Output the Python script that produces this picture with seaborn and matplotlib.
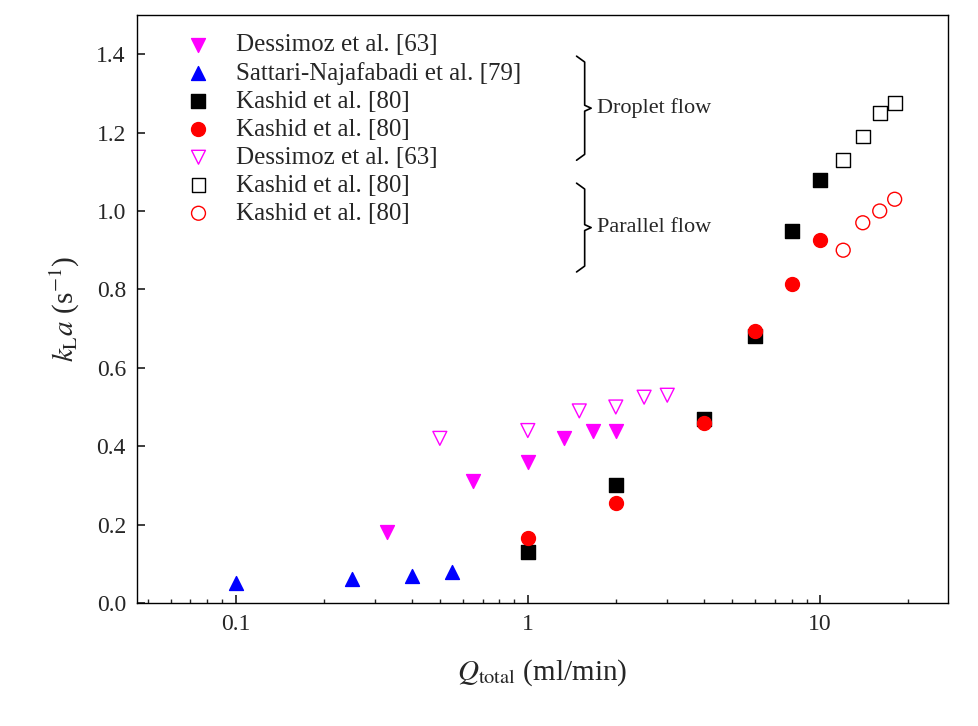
import matplotlib
matplotlib.use("Agg")
import matplotlib.pyplot as plt
import seaborn as sns
import pandas as pd

sns.set_theme(style="ticks")
plt.rcParams['font.family'] = ['Liberation Serif', 'DejaVu Serif']
plt.rcParams['mathtext.fontset'] = 'stix'

des_d_x = [0.33, 0.65, 1.0, 1.33, 1.67, 2.0]
des_d_y = [0.18, 0.31, 0.36, 0.42, 0.44, 0.44]
sat_x = [0.1, 0.25, 0.4, 0.55]
sat_y = [0.05, 0.06, 0.07, 0.08]
kas_sq_x = [1, 2, 4, 6, 8, 10]
kas_sq_y = [0.13, 0.30, 0.47, 0.68, 0.95, 1.08]
kas_ci_x = [1, 2, 4, 6, 8, 10]
kas_ci_y = [0.165, 0.255, 0.46, 0.695, 0.815, 0.925]
des_p_x = [0.5, 1.0, 1.5, 2.0, 2.5, 3.0]
des_p_y = [0.42, 0.44, 0.49, 0.50, 0.525, 0.53]
kas_osq_x = [12, 14, 16, 18]
kas_osq_y = [1.13, 1.19, 1.25, 1.275]
kas_oci_x = [12, 14, 16, 18]
kas_oci_y = [0.90, 0.97, 1.00, 1.03]

fig = plt.figure(figsize=(9.79, 7.26), dpi=100)
ax = fig.add_axes([137/979, 1-603/726, 811/979, 588/726])

series = [
    (des_d_x, des_d_y, "Dessimoz et al. [63]", "v", "magenta", "magenta"),
    (sat_x, sat_y, "Sattari-Najafabadi et al. [79]", "^", "blue", "blue"),
    (kas_sq_x, kas_sq_y, "Kashid et al. [80]", "s", "black", "black"),
    (kas_ci_x, kas_ci_y, "Kashid et al. [80]", "o", "red", "red"),
    (des_p_x, des_p_y, "Dessimoz et al. [63]", "v", "none", "magenta"),
    (kas_osq_x, kas_osq_y, "Kashid et al. [80]", "s", "none", "black"),
    (kas_oci_x, kas_oci_y, "Kashid et al. [80]", "o", "none", "red"),
]
for x, y, lab, m, fc, ec in series:
    df = pd.DataFrame({"x": x, "y": y})
    sns.scatterplot(data=df, x="x", y="y", ax=ax, marker=m, s=100,
                    facecolor=fc, edgecolor=ec, linewidth=1.0, label=lab)

ax.set_xscale("log")
ax.set_xlim(0.046, 27.4)
ax.set_ylim(0, 1.5)
ax.set_yticks([0.0, 0.2, 0.4, 0.6, 0.8, 1.0, 1.2, 1.4])
ax.set_xticks([0.1, 1, 10])
ax.set_xticklabels(["0.1", "1", "10"])
ax.tick_params(which="both", direction="in", labelsize=17, top=False, right=False, pad=8)
ax.tick_params(which="major", length=6)
ax.tick_params(which="minor", length=3)
ax.set_xlabel(r"$Q_{\rm total}$ (ml/min)", fontsize=21, labelpad=16)
ax.set_ylabel(r"$k_{\rm L}a$ (s$^{-1}$)", fontsize=21, labelpad=10)
for s in ax.spines.values():
    s.set_color("black"); s.set_linewidth(1.0)

leg = ax.legend(loc="upper left", frameon=False, fontsize=18, handletextpad=0.9,
                labelspacing=0.22, bbox_to_anchor=(0.045, 0.985), borderaxespad=0.0,
                handlelength=1.2)

def brace(y0, y1, text):
    xb = 0.552
    tr = ax.transAxes
    ym = (y0 + y1) / 2
    ax.plot([xb-0.01, xb, xb, xb+0.008, xb, xb, xb-0.01],
            [y0, y0-0.01, ym+0.005, ym, ym-0.005, y1+0.01, y1],
            transform=tr, color="black", lw=1.2, clip_on=False)
    ax.text(xb+0.015, ym, text, transform=tr, fontsize=16, va="center", ha="left")

brace(0.93, 0.753, "Droplet flow")
brace(0.714, 0.563, "Parallel flow")

fig.savefig("out.png", dpi=100)
